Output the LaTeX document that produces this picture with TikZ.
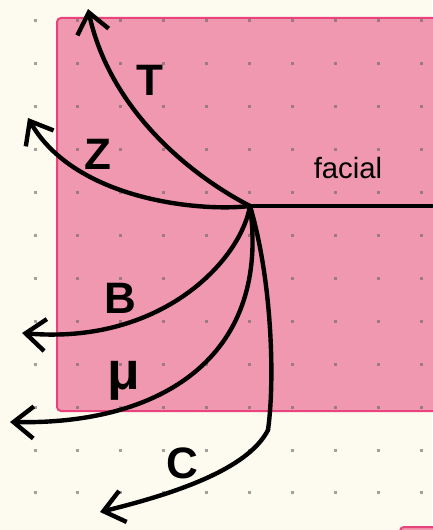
\documentclass[tikz,border=0pt]{standalone}
\usepackage{fontspec}
\setmainfont{Liberation Sans}
\usetikzlibrary{arrows.meta}
\definecolor{paper}{HTML}{FDFBF0}
\definecolor{rose}{HTML}{F098B0}
\definecolor{roseline}{HTML}{E8437C}
\begin{document}
\begin{tikzpicture}[x=0.75pt,y=-0.75pt,
  pen/.style={line width=3.3pt, line cap=round, line join=round},
  barb/.style={pen, -{Straight Barb[length=15pt,width=24pt]}},
  letter/.style={font=\fontsize{33}{33}\selectfont\bfseries},
  panel/.style={draw=roseline, fill=rose, line width=1.5pt, rounded corners=3pt}]
\useasboundingbox[fill=paper] (0,0) rectangle (432,530);
% pink panels
\draw[panel] (57,18) rectangle (450,411);
\draw[panel] (400,527) rectangle (450,560);
% dot grid
\foreach \i in {0,...,9}
  \foreach \j in {0,...,11}
    \fill[black!60, opacity=.6] ({33.5+42.9*\i},{19.5+42.9*\j}) rectangle ++(3,3);
% points
\coordinate (hub) at (250,206);
\coordinate (east) at (432,206);
\coordinate (tipT) at (88,9);
\coordinate (tipZ) at (28,118);
\coordinate (tipB) at (22,333);
\coordinate (tipM) at (10,422);
\coordinate (bend) at (268,430);
\coordinate (tipC) at (100,512);
% labels
\node[letter] (labT) at (150,80) {T};
\node[letter] (labZ) at (98,154) {Z};
\node[letter] (labB) at (120,298) {B};
\node[letter, font=\fontsize{40}{40}\selectfont\bfseries] (labM) at (124,381) {μ};
\node[letter] (labC) at (182,463) {C};
\node[font=\fontsize{22}{22}\selectfont] (facial) at (348,168) {facial};
% lines
\draw[pen] (hub) -- (east);
\draw[barb] (hub) .. controls (190,175) and (110,110) .. (tipT);
\draw[barb] (hub) .. controls (200,212) and (75,200) .. (tipZ);
\draw[barb] (hub) .. controls (240,262) and (160,345) .. (tipB);
\draw[barb] (hub) .. controls (270,350) and (170,425) .. (tipM);
\draw[pen] (hub) .. controls (272,280) and (275,380) .. (bend);
\draw[barb] (bend) .. controls (250,465) and (190,490) .. (tipC);
\end{tikzpicture}
\end{document}
